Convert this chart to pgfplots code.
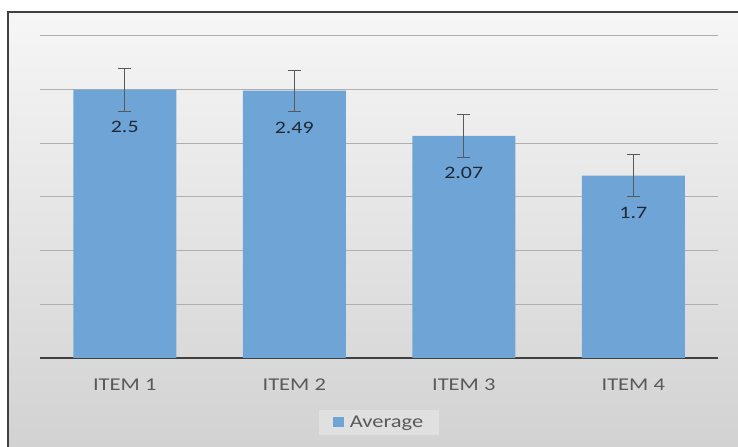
\documentclass[border=0pt]{standalone}
\usepackage{pgfplots}
\pgfplotsset{compat=1.18}
\usepackage{fontspec}
\setmainfont{Carlito}[FakeStretch=1.25]
\definecolor{barblue}{RGB}{111,165,214}
\definecolor{labgray}{RGB}{89,89,89}
\definecolor{gridc}{RGB}{175,175,175}
\definecolor{basec}{RGB}{64,64,64}
\definecolor{vallab}{RGB}{30,40,55}
\begin{document}
\begin{tikzpicture}[x=1bp,y=1bp]
\useasboundingbox (0,0) rectangle (738,447);
\shade[top color={rgb,255:red,246;green,246;blue,246}, bottom color={rgb,255:red,210;green,210;blue,210}] (8,0) rectangle (738,435);
\draw[color=basec, line width=1.5bp] (8,0) -- (8,435) -- (738,435);
\begin{axis}[
  at={(40bp,89bp)}, anchor=south west,
  scale only axis, width=678bp, height=322bp,
  xmin=-0.5, xmax=3.5, ymin=0, ymax=3,
  ybar, bar width=103bp,
  axis x line=bottom, axis y line=left,
  y axis line style={draw=none},
  x axis line style={-, line width=2.5bp, color=basec},
  ytick={0,0.5,...,3}, yticklabels={},
  ytick style={draw=none}, xtick style={draw=none},
  ymajorgrids, grid style={color=gridc, line width=1bp},
  xtick={0,1,2,3},
  xticklabels={ITEM 1, ITEM 2, ITEM 3, ITEM 4},
  xticklabel style={font=\fontsize{18bp}{22bp}\selectfont, text=labgray, yshift=-15bp},
  /pgf/number format/assume math mode=true,
  nodes near coords,
  every node near coord/.append style={font=\fontsize{17.5bp}{21bp}\selectfont, text=vallab, anchor=center, yshift=-37bp},
  legend style={at={(0.5,-0.2)}, anchor=center, draw=none,
    fill={rgb,255:red,224;green,224;blue,224},
    font=\fontsize{18bp}{22bp}\selectfont, text=labgray,
    inner xsep=14bp, inner ysep=4bp},
  legend image code/.code={\fill[barblue] (0bp,-5bp) rectangle (11bp,5bp);},
]
\addplot[fill=barblue, draw=none,
  error bars/.cd, y dir=both, y explicit,
  error bar style={color=labgray, line width=1bp},
  error mark options={rotate=90, mark size=6.5bp, color=labgray, line width=1bp}]
coordinates {
  (0,2.5) +- (0,0.2)
  (1,2.49) +- (0,0.19)
  (2,2.07) +- (0,0.2)
  (3,1.7) +- (0,0.2)
};
\addlegendentry{\hspace{4bp}Average}
\end{axis}
\end{tikzpicture}
\end{document}
